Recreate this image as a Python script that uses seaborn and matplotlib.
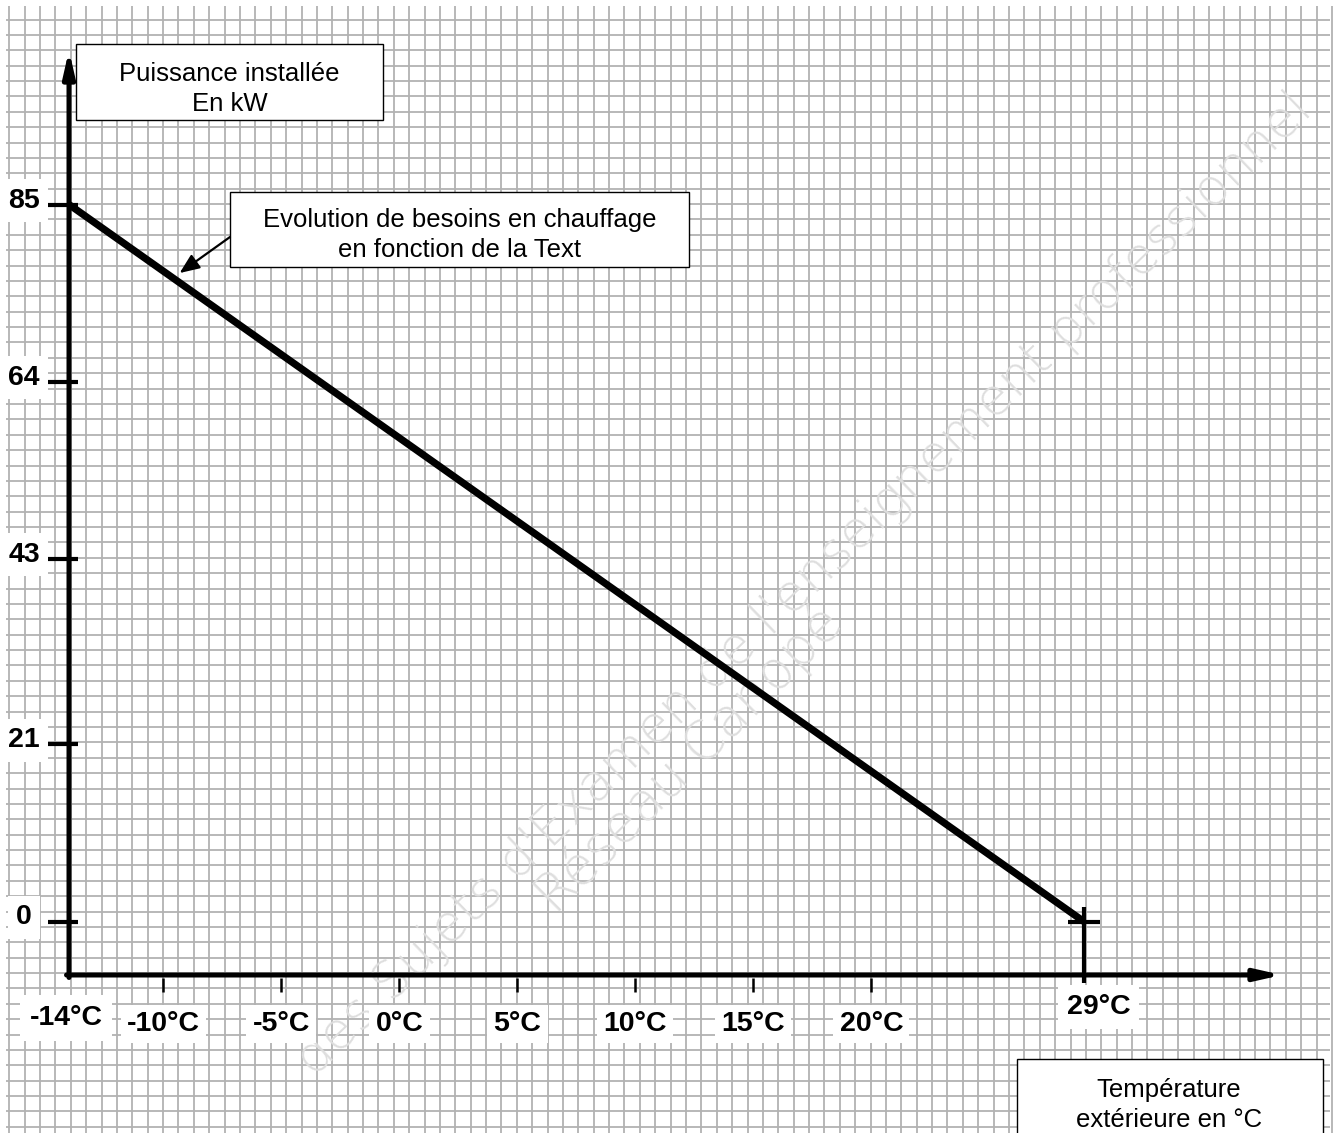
import numpy as np
import pandas as pd
import matplotlib
matplotlib.use("Agg")
import matplotlib.pyplot as plt
from matplotlib.patches import Rectangle
import seaborn as sns

# ---------------- data ----------------
temperature_c = [-14, 29]          # °C
puissance_kw = [85, 0]             # kW
y_tick_values = [0, 21, 43, 64, 85]
y_tick_labels = ["0", "21", "43", "64", "85"]
x_tick_values = [-10, -5, 0, 5, 10, 15, 20]
x_tick_labels = ["-10°C", "-5°C", "0°C", "5°C", "10°C", "15°C", "20°C"]
x_start_label = "-14°C"
x_end_label = "29°C"
y_title = "Puissance installée\nEn kW"
x_title = "Température\nextérieure en °C"
curve_note = "Evolution de besoins en chauffage\nen fonction de la Text"
watermark_main = "des Sujets d'Examen de l'enseignement professionnel"
watermark_sub = "Réseau Canopé"

# ---------------- layout ----------------
W, H, DPI = 1335, 1133, 100
PX_PER_C = 23.6       # horizontal scale (pixels per °C)
PX_PER_KW = 8.435     # vertical scale (pixels per kW)
X0_PX, Y0_PX = 69, 921.5   # pixel position of (first temperature, 0 kW)
XAXIS_PX = 975             # pixel row of the horizontal axis

sns.set_theme(style="white")
plt.rcParams["font.family"] = ["Liberation Sans", "DejaVu Sans"]
plt.rcParams["text.color"] = "black"

fig = plt.figure(figsize=(W / DPI, H / DPI), dpi=DPI)
fig.patch.set_facecolor("white")

# background "graph paper" in pixel coordinates
paper = fig.add_axes([0, 0, 1, 1], zorder=0)
paper.set_xlim(0, W)
paper.set_ylim(H, 0)
paper.axis("off")
GRID = 15.38
gx = np.arange(9.3, W - 3, GRID)
gy = np.arange(19.5, H - 3, GRID)
paper.vlines(gx, 6, H, color="#b2b2b2", lw=1.3, zorder=1)
paper.hlines(gy, 6, W - 5, color="#b2b2b2", lw=1.3, zorder=1)

# faint watermark
paper.text(805, 585, watermark_main, rotation=44, rotation_mode="anchor",
           ha="center", va="center", fontsize=37, color="#dedede",
           family=["DejaVu Sans"], fontweight="light", zorder=2)
paper.text(690, 760, watermark_sub, rotation=45, rotation_mode="anchor",
           ha="center", va="center", fontsize=38, color="#dedede",
           family=["DejaVu Sans"], fontweight="light", zorder=2)

# data axes
ax = fig.add_axes([0, 0, 1, 1], zorder=1)
t0 = temperature_c[0]
ax.set_xlim(t0 - X0_PX / PX_PER_C, t0 + (W - X0_PX) / PX_PER_C)
ax.set_ylim(-(H - Y0_PX) / PX_PER_KW, Y0_PX / PX_PER_KW)
ax.axis("off")

x_axis_kw = -(XAXIS_PX - Y0_PX) / PX_PER_KW
dx = 1.0 / PX_PER_C   # one pixel in °C
dy = 1.0 / PX_PER_KW  # one pixel in kW

# axes with arrows
arrow_style = "-|>,head_length=0.75,head_width=0.17"
ax.annotate("", xy=(t0 + (1282 - X0_PX) * dx, x_axis_kw),
            xytext=(t0 - 2.5 * dx, x_axis_kw),
            arrowprops=dict(arrowstyle=arrow_style, mutation_scale=20, lw=3.6,
                            color="black", shrinkA=0, shrinkB=0))
ax.annotate("", xy=(t0, (Y0_PX - 50) * dy),
            xytext=(t0, x_axis_kw - 2.5 * dy),
            arrowprops=dict(arrowstyle=arrow_style, mutation_scale=20, lw=3.6,
                            color="black", shrinkA=0, shrinkB=0))

# main curve
df = pd.DataFrame({"temperature": temperature_c, "puissance": puissance_kw})
sns.lineplot(data=df, x="temperature", y="puissance", ax=ax, color="black",
             lw=5.2, solid_capstyle="butt", legend=False, zorder=5)

# y ticks and labels
ax.hlines(y_tick_values, t0 - 21 * dx, t0 + 9 * dx, color="black", lw=3, zorder=4)
for v, lab in zip(y_tick_values, y_tick_labels):
    ax.annotate(lab, xy=(t0, v), xytext=(-45, 4), textcoords="offset pixels",
                ha="center", va="center", fontsize=20.5, fontweight="bold",
                bbox=dict(boxstyle="square,pad=0.3", fc="white", ec="none"))

# x ticks and labels
ax.vlines(x_tick_values, x_axis_kw - 3 * dy, x_axis_kw - 17 * dy,
          color="black", lw=1.8, zorder=4)
for v, lab in zip(x_tick_values, x_tick_labels):
    ax.annotate(lab, xy=(v, x_axis_kw), xytext=(0, -49), textcoords="offset pixels",
                ha="center", va="center", fontsize=20.5, fontweight="bold",
                bbox=dict(boxstyle="square,pad=0.22", fc="white", ec="none"))
ax.annotate(x_start_label, xy=(t0, x_axis_kw), xytext=(-3, -43),
            textcoords="offset pixels", ha="center", va="center",
            fontsize=20.5, fontweight="bold",
            bbox=dict(boxstyle="square,pad=0.35", fc="white", ec="none"))

# end marker (cross) at the last point
t_end, p_end = temperature_c[-1], puissance_kw[-1]
ax.vlines(t_end, x_axis_kw - 8 * dy, p_end + 15 * dy, color="black", lw=3, zorder=6)
ax.hlines(p_end, t_end - 16 * dx, t_end + 16 * dx, color="black", lw=3, zorder=6)
ax.annotate(x_end_label, xy=(t_end, x_axis_kw), xytext=(-17, -32),
            textcoords="offset pixels", ha="left", va="center",
            fontsize=20.5, fontweight="bold",
            bbox=dict(boxstyle="square,pad=0.3", fc="white", ec="none"))

# text boxes
def note_box(x, y, w, h, text, cx, cy):
    paper.add_patch(Rectangle((x, y), w, h, fc="white", ec="black", lw=1.0, zorder=3))
    paper.text(cx, cy, text, ha="center", va="center", fontsize=18.5,
               linespacing=1.3, zorder=4)

note_box(76, 44, 307, 76, y_title, 229.5, 89)
note_box(230, 192, 459, 75, curve_note, 459.5, 235)
note_box(1017, 1059, 306, 90, x_title, 1169, 1105)

# arrow from the note to the curve
t_note = -9.6
p_note = float(np.interp(t_note, temperature_c, puissance_kw))
ax.annotate("", xy=(t_note, p_note), xytext=(230, 237), textcoords=paper.transData,
            arrowprops=dict(arrowstyle="-|>,head_length=0.6,head_width=0.25",
                            mutation_scale=20, lw=1.6, color="black",
                            shrinkA=0, shrinkB=6), zorder=7)

fig.savefig("out.png", dpi=DPI, facecolor="white")
